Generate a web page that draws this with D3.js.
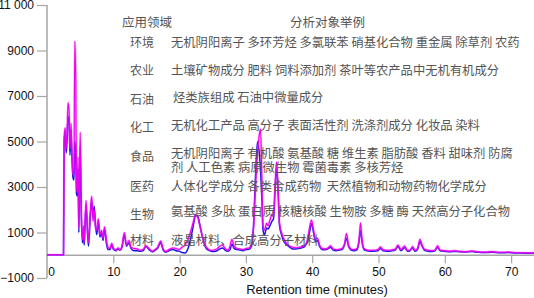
<!DOCTYPE html>
<html><head><meta charset="utf-8">
<script src="https://cdn.jsdelivr.net/npm/d3@7"></script>
<style>
html,body{margin:0;padding:0;background:#fff;}
svg{display:block;}
</style></head>
<body>
<svg id="chart" width="534" height="298"></svg>
<script>
// ---- data ----
const times = [0,2.49,2.59,2.75,2.90,3.02,3.17,3.32,3.47,3.62,3.77,3.92,4.07,4.19,4.34,4.45,4.57,4.68,4.80,5.01,5.17,5.35,5.51,5.61,5.88,6.11,6.26,6.49,6.74,6.94,7.13,7.32,7.50,7.74,7.99,8.22,8.45,8.67,8.97,9.20,9.50,9.76,10.03,10.41,10.71,11.01,11.31,11.66,11.99,12.37,12.67,13.12,13.57,14.03,14.48,14.93,15.38,15.84,16.29,16.67,17.15,17.50,17.87,18.40,19.00,19.46,19.91,20.36,20.81,21.27,21.72,22.10,22.40,22.70,23.08,23.45,23.83,24.28,24.74,25.19,25.64,26.09,26.47,26.85,27.30,27.60,27.90,28.21,28.66,29.11,29.56,30.02,30.47,30.84,31.15,31.45,31.75,31.98,32.20,32.40,32.58,32.81,33.11,33.33,33.63,33.94,34.16,34.39,34.62,34.84,35.07,35.37,35.75,36.20,36.65,37.10,37.56,38.01,38.46,38.91,39.29,39.59,39.89,40.20,40.50,40.80,41.10,41.48,41.93,42.38,42.76,43.14,43.59,44.04,44.49,44.87,45.17,45.48,45.85,46.30,46.76,47.06,47.29,47.51,47.81,48.27,48.72,49.32,49.92,50.30,50.68,51.28,51.89,52.49,52.94,53.39,53.92,54.37,54.75,55.13,55.51,55.88,56.26,56.56,56.94,57.47,58.07,58.52,58.90,59.28,60.03,60.78,61.54,62.29,63.20,64.10,65.01,66.06,67.12,68.33,69.53,70.59,71.64,72.55,73.45];
const magentaSignal = [20,20,5200,5600,4700,5300,6700,6400,4700,5800,4400,3600,3500,9400,7600,3000,2800,4300,1200,5400,2200,700,1300,600,2400,1200,550,1700,2600,1500,2000,1200,1100,1600,900,1100,750,1250,650,350,300,520,300,230,320,250,400,1000,450,650,350,300,280,220,250,420,300,180,250,350,620,300,160,250,320,300,250,350,450,700,1100,1500,1800,1700,1250,800,450,280,220,230,280,400,450,300,220,400,700,400,300,280,250,300,320,500,1200,3000,4500,5200,5550,3500,1300,1100,1400,1300,1550,1800,1700,3000,4100,3000,1400,1000,700,500,400,350,330,350,380,450,700,1200,1550,1100,700,750,450,300,280,320,420,280,250,260,300,500,950,450,280,250,300,700,1420,700,300,230,220,220,250,370,240,220,230,260,450,250,400,220,220,380,220,300,700,450,260,220,200,230,420,230,200,180,200,170,160,190,150,140,160,130,140,120,110,110,100];
const blueSignal = [20,20,5000,5400,4500,5000,6100,6000,4400,5500,4200,3400,3300,5000,4500,2700,2600,3800,1000,4800,1800,550,1000,450,2200,1000,400,1500,2400,1700,2150,1300,900,1500,800,1000,650,1150,500,250,250,450,250,200,280,220,350,900,400,550,300,200,200,180,200,380,250,150,220,300,550,250,130,200,250,200,180,120,100,300,800,1350,1750,1750,1300,800,400,230,180,170,200,280,320,230,180,250,500,300,250,230,200,250,260,400,1300,3500,5000,4600,3800,2500,1100,900,1200,1150,1300,1500,1600,2800,3900,2900,1300,900,600,450,350,280,280,300,330,400,600,1000,1400,1000,600,650,400,250,240,280,350,230,200,220,250,450,750,400,230,200,250,600,1100,600,250,200,180,180,200,300,200,180,190,220,380,200,330,180,200,320,180,250,600,400,220,180,170,200,350,200,170,150,170,150,140,160,130,120,130,110,120,100,95,90,90];
const xTicks = [0,10,20,30,40,50,60,70];
const yTicks = [-1000,1000,3000,5000,7000,9000,11000];
const yTickLabels = ["\u22121000","1000","3000","5000","7000","9000","11 000"];
const fieldHeader = "应用领域";
const exampleHeader = "分析对象举例";
const fields = ["环境","农业","石油","化工","食品","医药","生物","材料"];
const examples = [
  ["无机阴阳离子 多环芳烃 多氯联苯 硝基化合物 重金属 除草剂 农药"],
  ["土壤矿物成分 肥料 饲料添加剂 茶叶等农产品中无机有机成分"],
  ["烃类族组成 石油中微量成分"],
  ["无机化工产品 高分子 表面活性剂 洗涤剂成分 化妆品 染料"],
  ["无机阴阳离子 有机酸 氨基酸 糖 维生素 脂肪酸 香料 甜味剂 防腐","剂 人工色素 病原微生物 霉菌毒素 多核芳烃"],
  ["人体化学成分 各类合成药物  天然植物和动物药物化学成分"],
  ["氨基酸 多肽 蛋白质 核糖核酸 生物胺 多糖 酶 天然高分子化合物"],
  ["液晶材料、合成高分子材料"]
];

// ---- layout ----
const svg = d3.select("#chart");
const x = d3.scaleLinear().domain([0, 73.45]).range([47, 534]);
const y = d3.scaleLinear().domain([-1000, 11000]).range([278, 5]);
const axisColor = "#a6a6a6";
const numFont = "'Liberation Sans', Arial, Helvetica, sans-serif";
const cjkFont = "'Noto Sans CJK SC', sans-serif";

// y axis
const yAxis = svg.append("g").attr("transform", `translate(${x(0)},0)`)
  .call(d3.axisLeft(y).tickValues(yTicks).tickSize(10).tickPadding(3)
        .tickFormat((d,i)=>yTickLabels[i]));
yAxis.select(".domain").attr("stroke", axisColor).attr("stroke-width", 1.5)
  .attr("d", `M0,${y(11000)}V${y(-1000)}`);
yAxis.selectAll(".tick line").attr("stroke", axisColor).attr("stroke-width", 1.2);
yAxis.selectAll(".tick text").attr("fill", "#111").style("font-family", numFont).style("font-size", "12px");

// x axis at value 0
const xAxis = svg.append("g").attr("transform", `translate(0,${y(0)})`)
  .call(d3.axisBottom(x).tickValues(xTicks).tickSize(8).tickPadding(4).tickFormat(d3.format("d")));
xAxis.select(".domain").attr("stroke", axisColor).attr("stroke-width", 1.5)
  .attr("d", `M${x(0)},0H534`);
xAxis.selectAll(".tick line").attr("stroke", axisColor).attr("stroke-width", 1.2);
xAxis.selectAll(".tick text").attr("fill", "#111").style("font-family", numFont).style("font-size", "12px");
xAxis.selectAll(".tick").filter(d => d === 0).select("line").remove();
xAxis.selectAll(".tick").filter(d => d === 0).select("text").attr("x", 4);

svg.append("text").attr("x", 317).attr("y", 294).attr("text-anchor", "middle")
  .style("font-family", numFont).style("font-size", "13px").attr("fill", "#111")
  .text("Retention time (minutes)");

// traces
const line = d3.line().x((d,i)=>x(times[i])).y(d=>y(d)).curve(d3.curveMonotoneX);
svg.append("path").datum(blueSignal).attr("d", line)
  .attr("fill","none").attr("stroke","#1414e6").attr("stroke-width",1.5).attr("stroke-linejoin","round");
svg.append("path").datum(magentaSignal).attr("d", line)
  .attr("fill","none").attr("stroke","#ff22ff").attr("stroke-width",2.2).attr("stroke-opacity",0.45).attr("stroke-linejoin","round");
svg.append("path").datum(magentaSignal).attr("d", line)
  .attr("fill","none").attr("stroke","#ee00ee").attr("stroke-width",1.1).attr("stroke-linejoin","round");

// table text
const textColor = "#555";
const rowBase = [46.5, 75, 102, 130, 158, 190.5, 216, 244.5];
const labelBase = [46.5, 75, 104, 132, 161, 190.5, 218.5, 245];
svg.append("text").attr("x", 122).attr("y", 27).style("font-family", cjkFont).style("font-size","12.5px")
  .attr("fill", textColor).text(fieldHeader);
svg.append("text").attr("x", 290).attr("y", 27).style("font-family", cjkFont).style("font-size","12.5px")
  .attr("fill", textColor).text(exampleHeader);
fields.forEach((f,i)=>{
  svg.append("text").attr("x",130).attr("y",labelBase[i]).style("font-family",cjkFont).style("font-size","12px")
    .attr("fill",textColor).text(f);
  const tx = i===2 ? 173 : 171;
  const t = svg.append("text").attr("x", tx).attr("y", rowBase[i]).style("font-family",cjkFont)
      .style("font-size","12.3px").attr("fill",textColor).style("white-space","pre");
  examples[i].forEach((ln,j)=>{
    t.append("tspan").attr("x", tx).attr("dy", j === 0 ? 0 : 13.5).text(ln);
  });
});
</script>
</body></html>
